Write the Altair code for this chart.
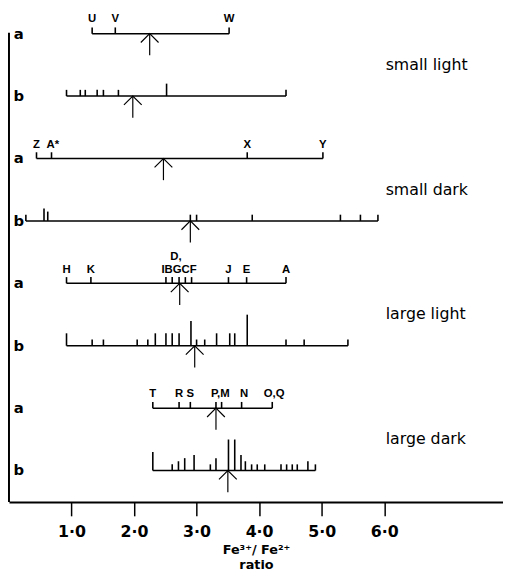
import altair as alt
import pandas as pd

# ---------------- data (Fe3+/Fe2+ ratio values) ----------------
groups = ["small light", "small dark", "large light", "large dark"]

# row "a": individual labelled samples
sl_a_ticks = [1.33, 1.70, 3.52]
sl_a_labels = ["U", "V", "W"]
sl_a_label_x = [1.33, 1.70, 3.52]
sl_a_mean = 2.25

sd_a_ticks = [0.44, 0.68, 3.81, 5.02]
sd_a_labels = ["Z", "A*", "X", "Y"]
sd_a_label_x = [0.44, 0.70, 3.81, 5.02]
sd_a_mean = 2.47

ll_a_ticks = [0.92, 1.31, 2.51, 2.61, 2.72, 2.82, 2.92, 3.51, 3.80, 4.43]
ll_a_labels = ["H", "K", "IBGCF", "J", "E", "A"]
ll_a_label_x = [0.92, 1.31, 2.72, 3.51, 3.80, 4.43]
ll_a_upper_labels = ["D,"]
ll_a_upper_label_x = [2.67]
ll_a_mean = 2.73

ld_a_ticks = [2.30, 2.72, 2.90, 3.31, 3.40, 3.72, 4.21]
ld_a_labels = ["T", "R", "S", "P,M", "N", "O,Q"]
ld_a_label_x = [2.30, 2.72, 2.90, 3.38, 3.76, 4.24]
ld_a_mean = 3.31

# row "b": distribution (tick height = relative frequency)
sl_b_ticks = [0.92, 1.14, 1.22, 1.41, 1.51, 1.75, 2.52, 4.43]
sl_b_freq = [1, 1, 1, 1, 1, 1, 2, 1]
sl_b_mean = 1.98

sd_b_ticks = [0.27, 0.56, 0.62, 2.90, 3.00, 3.89, 5.30, 5.62, 5.90]
sd_b_freq = [1, 2, 1.5, 1, 1, 1, 1, 1, 1]
sd_b_mean = 2.90

ll_b_ticks = [0.92, 1.33, 1.51, 2.05, 2.22, 2.34, 2.51, 2.61, 2.72, 2.91,
              3.00, 3.13, 3.32, 3.53, 3.61, 3.81, 4.43, 4.72, 5.42]
ll_b_freq = [2, 1, 1, 1, 1, 2, 2, 2, 2, 4, 1, 1, 2, 2, 2, 5, 1, 1, 1]
ll_b_mean = 2.97

ld_b_ticks = [2.30, 2.61, 2.71, 2.81, 2.96, 3.22, 3.31, 3.51, 3.61, 3.71,
              3.78, 3.88, 3.97, 4.09, 4.35, 4.44, 4.53, 4.61, 4.78, 4.90]
ld_b_freq = [3, 1, 1.5, 2, 2.5, 1, 2, 5, 5, 2.5, 1.5, 1, 1, 1, 1, 1, 1, 1, 1.5, 1]
ld_b_mean = 3.50

x_tick_values = [1, 2, 3, 4, 5, 6]

# ---------------- layout ----------------
W, H = 501, 497
ROW0, ROW_STEP = 22, 63.3
UNIT = 6.3        # px per frequency unit
ARROW = 22

rows = [
    ("a", sl_a_ticks, [1] * len(sl_a_ticks), sl_a_mean),
    ("b", sl_b_ticks, sl_b_freq, sl_b_mean),
    ("a", sd_a_ticks, [1] * len(sd_a_ticks), sd_a_mean),
    ("b", sd_b_ticks, sd_b_freq, sd_b_mean),
    ("a", ll_a_ticks, [1] * len(ll_a_ticks), ll_a_mean),
    ("b", ll_b_ticks, ll_b_freq, ll_b_mean),
    ("a", ld_a_ticks, [1] * len(ld_a_ticks), ld_a_mean),
    ("b", ld_b_ticks, ld_b_freq, ld_b_mean),
]
labels_a = [
    (0, sl_a_labels, sl_a_label_x, 12),
    (2, sd_a_labels, sd_a_label_x, 11),
    (4, ll_a_labels, ll_a_label_x, 10),
    (4, ll_a_upper_labels, ll_a_upper_label_x, 24),
    (6, ld_a_labels, ld_a_label_x, 11),
]

def base(i):
    return ROW0 + ROW_STEP * i

tick_rows, range_rows, mean_rows, rowlab_rows = [], [], [], []
for i, (sub, ticks, freq, mean) in enumerate(rows):
    y = base(i)
    for t, f in zip(ticks, freq):
        tick_rows.append({"x": t, "y": y, "y2": y - f * UNIT})
    range_rows.append({"x": min(ticks), "x2": max(ticks), "y": y})
    mean_rows.append({"x": mean, "y": y, "y2": y + ARROW})
    rowlab_rows.append({"t": sub, "y": y})

lab_rows = []
for i, texts, xs, off in labels_a:
    for t, xv in zip(texts, xs):
        lab_rows.append({"x": xv, "y": base(i) - off, "t": t})

group_rows = [{"t": g, "y": (base(2 * k) + base(2 * k + 1)) / 2} for k, g in enumerate(groups)]

ticks_df = pd.DataFrame(tick_rows)
range_df = pd.DataFrame(range_rows)
mean_df = pd.DataFrame(mean_rows)
lab_df = pd.DataFrame(lab_rows)
rowlab_df = pd.DataFrame(rowlab_rows)
group_df = pd.DataFrame(group_rows)

xscale = alt.Scale(domain=[0, 7.9], nice=False, zero=False)
yscale = alt.Scale(domain=[0, H], reverse=True, nice=False, zero=False)
xaxis = alt.Axis(
    values=x_tick_values, format=".1f", labelExpr="replace(datum.label, '.', '·')",
    grid=False, title=["Fe³⁺/ Fe²⁺", "ratio"],
)

def X(field="x"):
    return alt.X(f"{field}:Q", scale=xscale, axis=xaxis)

def Y(field="y"):
    return alt.Y(f"{field}:Q", scale=yscale, axis=None)

ranges = alt.Chart(range_df).mark_rule(color="black", strokeWidth=1.5).encode(
    x=X(), x2="x2:Q", y=Y())
ticks = alt.Chart(ticks_df).mark_rule(color="black", strokeWidth=1.6).encode(
    x=X(), y=Y(), y2="y2:Q")
shafts = alt.Chart(mean_df).mark_rule(color="black", strokeWidth=1.2).encode(
    x=X(), y=Y(), y2="y2:Q")
heads = alt.Chart(mean_df).mark_point(
    shape="M-1,1L0,0L1,1", size=324, filled=False, color="black", strokeWidth=1.2, opacity=1
).encode(x=X(), y=Y())
labels = alt.Chart(lab_df).mark_text(
    font="Liberation Sans", fontSize=11.5, fontWeight="bold", baseline="alphabetic", color="black"
).encode(x=X(), y=Y(), text="t:N")
rowlabs = alt.Chart(rowlab_df).mark_text(
    font="DejaVu Sans", fontSize=15, fontWeight="bold", baseline="middle", color="black"
).encode(x=alt.value(10), y=Y(), text="t:N")
grouplabs = alt.Chart(group_df).mark_text(
    font="DejaVu Sans", fontSize=16, align="left", baseline="middle", color="black"
).encode(x=alt.value(382), y=Y(), text="t:N")
leftline = alt.Chart(pd.DataFrame({"k": [0]})).mark_rule(color="black", strokeWidth=2).encode(
    x=alt.value(0), y=alt.value(21), y2=alt.value(H))

chart = alt.layer(
    leftline, ranges, ticks, shafts, heads, labels, rowlabs, grouplabs
).properties(width=W, height=H, padding=0).configure_view(stroke=None).configure_axis(
    domainColor="black", domainWidth=2, tickColor="black", tickSize=14, tickWidth=1.5,
    labelFont="DejaVu Sans", labelFontSize=16, labelFontWeight="bold", labelColor="black",
    labelPadding=8, titleFont="DejaVu Sans", titleFontSize=13, titleFontWeight="bold",
    titleColor="black", titlePadding=4, titleLineHeight=15,
)

chart.save("out.html", embed_options={"renderer": "svg", "actions": False})
